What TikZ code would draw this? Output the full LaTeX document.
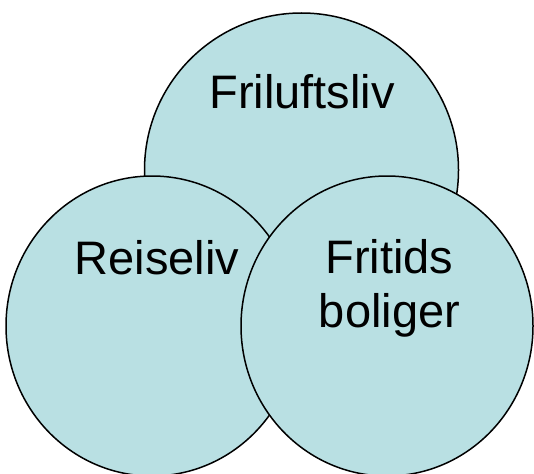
\documentclass[tikz,border=0pt]{standalone}
\usepackage{fontspec}
\setmainfont{Liberation Sans}
\usetikzlibrary{shapes.geometric}
\definecolor{vennfill}{RGB}{185,224,227}
\begin{document}
\begin{tikzpicture}[x=1pt,y=-1pt,
  venn/.style={ellipse,draw=black,line width=1.5pt,fill=vennfill,inner sep=0pt},
  lbl/.style={font=\fontsize{47}{54}\selectfont,text=black,inner sep=0pt,align=center,anchor=base}]
\useasboundingbox (0,0) rectangle (534,473);
\begin{scope}
\clip (0,0) rectangle (534,473);
\node[venn,minimum width=314pt,minimum height=314pt] (top) at (301.5,170) {};
\node[venn,minimum width=292pt,minimum height=300pt] (left) at (152,326) {};
\node[venn,minimum width=292pt,minimum height=300pt] (right) at (387,326) {};
\end{scope}
\node[lbl] (t1) at (302,109) {Friluftsliv};
\node[lbl] (t2) at (157,274) {Reiseliv};
\node[lbl] (t3) at (389.5,327) {Fritids\\boliger};
\end{tikzpicture}
\end{document}
